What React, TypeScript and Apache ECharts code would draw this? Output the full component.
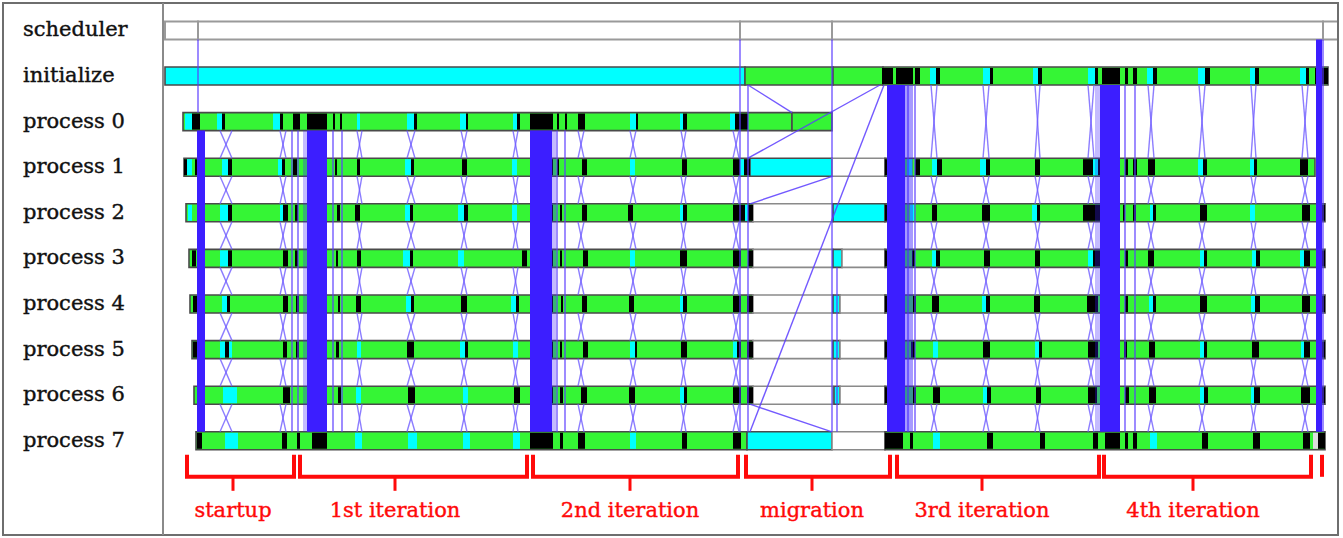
import React, { useEffect, useRef } from "react";
import * as echarts from "echarts";

// ---------- DATA (time unit: trace ticks, 0 = left edge of the timeline) ----------
const rowNames = [
  "scheduler", "initialize", "process 0", "process 1", "process 2",
  "process 3", "process 4", "process 5", "process 6", "process 7",
];

// state codes: C = compute (green), M = communicate (cyan), W = wait (black), I = idle / empty
const stateColors: Record<string, string> = { C: "#35f535", M: "#00ffff", W: "#000000", I: "#ffffff" };
const stateCodes = ["C", "M", "W", "I"];

// base activity spans per row: [state, start, end]
const schedulerSpans: [string, number, number][] = [["I", 2, 35], ["I", 35, 577], ["I", 577, 669], ["I", 669, 1160], ["I", 1160, 1175]];
const initializeSpans: [string, number, number][] = [["M", 2, 582], ["C", 582, 670], ["C", 670, 720], ["C", 720, 1165]];
const p0Spans: [string, number, number][] = [["C", 20, 629], ["C", 629, 669]];
const p1Spans: [string, number, number][] = [["C", 21, 587], ["M", 587, 669], ["I", 669, 722], ["C", 722, 1152]];
const p2Spans: [string, number, number][] = [["C", 23, 590], ["I", 590, 670], ["M", 670, 722], ["C", 722, 1162]];
const p3Spans: [string, number, number][] = [["C", 26, 590], ["I", 590, 670], ["M", 670, 679], ["I", 679, 722], ["C", 722, 1162]];
const p4Spans: [string, number, number][] = [["C", 27, 590], ["I", 590, 670], ["M", 670, 677], ["I", 677, 722], ["C", 722, 1162]];
const p5Spans: [string, number, number][] = [["C", 29, 590], ["I", 590, 670], ["M", 670, 677], ["I", 677, 722], ["C", 722, 1162]];
const p6Spans: [string, number, number][] = [["C", 31, 590], ["I", 590, 670], ["M", 671, 677], ["I", 677, 722], ["C", 722, 1162]];
const p7Spans: [string, number, number][] = [["C", 33, 584], ["M", 584, 669], ["I", 669, 722], ["C", 722, 1162]];

// short events inside the spans: [state, start, end]
const initializeEvents: [string, number, number][] = [
  ["W", 719, 730], ["W", 733, 750], ["W", 752, 757], ["M", 767, 773], ["W", 773, 777], ["M", 820, 827], ["W", 827, 830],
  ["M", 870, 875], ["W", 875, 879], ["M", 925, 932], ["W", 932, 935], ["W", 939, 957], ["W", 962, 965], ["W", 970, 974],
  ["M", 984, 990], ["W", 990, 994], ["M", 1035, 1042], ["W", 1042, 1047], ["M", 1087, 1092], ["W", 1092, 1096],
  ["M", 1137, 1143], ["W", 1143, 1146], ["W", 1152, 1165],
];
const p0Events: [string, number, number][] = [
  ["M", 22, 29], ["W", 29, 37], ["M", 54, 59], ["W", 59, 62], ["M", 110, 117], ["W", 117, 120], ["W", 130, 137],
  ["W", 144, 164], ["W", 170, 172], ["W", 177, 179], ["M", 194, 197], ["M", 244, 251], ["W", 251, 254], ["M", 297, 303],
  ["W", 303, 305], ["M", 350, 354], ["W", 354, 357], ["W", 367, 390], ["W", 394, 396], ["W", 402, 404], ["W", 415, 422],
  ["M", 467, 473], ["W", 473, 475], ["M", 517, 520], ["W", 520, 524], ["M", 567, 572], ["W", 572, 585],
];
const p1Events: [string, number, number][] = [
  ["W", 21, 24], ["M", 24, 29], ["W", 32, 37], ["M", 59, 65], ["W", 65, 69], ["M", 115, 119], ["W", 119, 122], ["W", 130, 134],
  ["W", 147, 162], ["W", 172, 174], ["W", 194, 197], ["M", 242, 248], ["W", 248, 251], ["W", 299, 304], ["M", 349, 354],
  ["W", 367, 390], ["W", 394, 396], ["W", 419, 424], ["M", 467, 472], ["W", 519, 524], ["W", 570, 577], ["M", 577, 581], ["W", 581, 587],
  ["W", 722, 730], ["M", 744, 749], ["W", 752, 757], ["M", 769, 774], ["W", 774, 779], ["M", 817, 823], ["W", 823, 827],
  ["W", 872, 877], ["W", 920, 930], ["M", 930, 935], ["W", 935, 939], ["W", 947, 949], ["W", 962, 965], ["W", 970, 974],
  ["W", 985, 992], ["M", 1035, 1040], ["W", 1040, 1044], ["M", 1087, 1091], ["W", 1091, 1094], ["W", 1137, 1145],
];
const p2Events: [string, number, number][] = [
  ["M", 25, 29], ["M", 57, 65], ["W", 65, 69], ["M", 117, 120], ["W", 120, 125], ["W", 132, 135], ["W", 147, 162],
  ["W", 174, 177], ["W", 192, 197], ["M", 242, 247], ["W", 247, 250], ["M", 295, 301], ["W", 301, 305], ["M", 349, 354],
  ["W", 367, 390], ["W", 397, 399], ["W", 419, 424], ["W", 465, 470], ["M", 517, 520], ["W", 520, 524], ["W", 570, 582],
  ["M", 582, 585], ["W", 585, 590],
  ["W", 722, 742], ["M", 747, 751], ["W", 769, 774], ["W", 819, 827], ["M", 869, 874], ["W", 874, 877], ["W", 920, 937],
  ["W", 960, 962], ["W", 970, 973], ["M", 987, 990], ["W", 990, 993], ["W", 1037, 1044], ["M", 1087, 1092], ["W", 1139, 1147],
  ["W", 1154, 1162],
];
const p3Events: [string, number, number][] = [
  ["W", 29, 33], ["M", 57, 65], ["W", 65, 69], ["W", 120, 125], ["W", 132, 135], ["W", 147, 162], ["W", 173, 175],
  ["W", 194, 198], ["M", 240, 247], ["W", 247, 250], ["M", 295, 301], ["W", 359, 364], ["W", 367, 390], ["W", 397, 399],
  ["W", 420, 425], ["M", 467, 472], ["W", 517, 524], ["W", 570, 578], ["W", 585, 590],
  ["W", 722, 742], ["W", 749, 752], ["M", 769, 773], ["W", 773, 777], ["W", 821, 827], ["W", 872, 877], ["M", 925, 930],
  ["W", 930, 937], ["W", 962, 965], ["W", 985, 991], ["M", 1037, 1041], ["W", 1041, 1044], ["M", 1089, 1093], ["W", 1093, 1097],
  ["M", 1137, 1141], ["W", 1141, 1147], ["W", 1155, 1162],
];
const p4Events: [string, number, number][] = [
  ["W", 30, 35], ["M", 59, 64], ["W", 64, 67], ["W", 120, 125], ["W", 133, 136], ["W", 147, 162], ["W", 175, 177],
  ["W", 193, 198], ["M", 243, 248], ["W", 248, 251], ["W", 298, 304], ["M", 348, 353], ["W", 353, 356], ["W", 367, 390],
  ["W", 398, 400], ["W", 419, 424], ["W", 466, 471], ["M", 517, 520], ["W", 520, 524], ["W", 570, 578], ["W", 584, 590],
  ["W", 722, 742], ["W", 750, 753], ["W", 769, 776], ["M", 819, 823], ["W", 823, 827], ["W", 871, 877], ["W", 924, 935],
  ["W", 962, 965], ["M", 986, 990], ["W", 990, 993], ["W", 1037, 1044], ["M", 1088, 1092], ["W", 1092, 1097], ["W", 1139, 1147],
  ["W", 1155, 1162],
];
const p5Events: [string, number, number][] = [
  ["W", 30, 35], ["M", 57, 62], ["W", 62, 66], ["M", 66, 69], ["W", 120, 124], ["W", 133, 136], ["W", 147, 162],
  ["W", 173, 176], ["M", 194, 198], ["W", 244, 251], ["M", 297, 302], ["W", 302, 305], ["M", 350, 355], ["W", 367, 390],
  ["W", 397, 399], ["W", 420, 425], ["M", 467, 472], ["W", 472, 474], ["W", 518, 524], ["M", 570, 574], ["W", 574, 578],
  ["W", 584, 590],
  ["W", 722, 742], ["W", 748, 752], ["M", 770, 775], ["W", 820, 827], ["M", 872, 876], ["W", 876, 879], ["W", 925, 935],
  ["W", 961, 964], ["W", 986, 992], ["M", 1037, 1041], ["W", 1041, 1044], ["W", 1089, 1096], ["M", 1138, 1141], ["W", 1141, 1147],
  ["W", 1155, 1162],
];
const p6Events: [string, number, number][] = [
  ["W", 34, 42], ["M", 60, 74], ["W", 120, 127], ["W", 147, 162], ["W", 175, 178], ["M", 193, 198], ["W", 245, 252],
  ["M", 300, 305], ["W", 351, 357], ["W", 367, 390], ["W", 397, 400], ["W", 418, 424], ["W", 466, 472], ["M", 517, 521],
  ["W", 521, 524], ["W", 570, 578], ["W", 584, 590],
  ["W", 722, 742], ["W", 750, 753], ["W", 770, 777], ["M", 820, 824], ["W", 824, 828], ["W", 873, 878], ["W", 925, 934],
  ["W", 962, 966], ["W", 986, 993], ["M", 1037, 1041], ["W", 1041, 1045], ["M", 1088, 1091], ["W", 1091, 1097], ["W", 1138, 1147],
  ["W", 1155, 1162],
];
const p7Events: [string, number, number][] = [
  ["W", 34, 39], ["M", 62, 75], ["W", 119, 124], ["W", 134, 137], ["W", 149, 164], ["M", 192, 199], ["M", 245, 254],
  ["M", 300, 307], ["M", 350, 357], ["W", 367, 390], ["W", 397, 400], ["W", 415, 422], ["M", 467, 473], ["W", 519, 524],
  ["W", 570, 578],
  ["W", 722, 740], ["W", 747, 750], ["M", 770, 777], ["W", 824, 830], ["W", 877, 882], ["W", 930, 935], ["W", 942, 957],
  ["W", 962, 965], ["W", 970, 974], ["M", 987, 994], ["W", 1039, 1045], ["W", 1090, 1097], ["W", 1140, 1147],
  ["I", 1150, 1155], ["W", 1155, 1162],
];

const rowSpans = [schedulerSpans, initializeSpans, p0Spans, p1Spans, p2Spans, p3Spans, p4Spans, p5Spans, p6Spans, p7Spans];
const rowEvents = [[], initializeEvents, p0Events, p1Events, p2Events, p3Events, p4Events, p5Events, p6Events, p7Events];

// collective bursts of messages: [fromRow, toRow, start, end, density]
const bursts: [number, number, number, number, number][] = [
  [2, 9, 34, 42, 1], [2, 9, 144, 164, 1], [2, 9, 140, 144, 0.3], [2, 9, 367, 389, 1], [2, 9, 389, 393, 0.3],
  [1, 9, 724, 742, 1], [1, 9, 742, 750, 0.45], [1, 9, 937, 957, 1], [1, 9, 932, 937, 0.3], [0, 9, 1153, 1159, 1],
];

// individual messages: [fromRow, sendTime, toRow, receiveTime]
const messages: [number, number, number, number][] = [
  [0, 35, 2, 35], [2, 129, 9, 129], [2, 135, 9, 135], [2, 170, 9, 170], [2, 179, 9, 179],
  [2, 394, 9, 394], [2, 402, 9, 402], [0, 577, 9, 577], [1, 585, 9, 585], [0, 669, 9, 669],
  [5, 674, 9, 674], [1, 745, 9, 745], [1, 752, 9, 752], [1, 962, 9, 962], [1, 972, 9, 972],
  [0, 1160, 9, 1160],
  // migration
  [1, 585, 2, 629], [1, 717, 3, 585], [3, 670, 4, 587], [1, 721, 9, 587], [8, 587, 9, 669],
];

// neighbour exchanges: [time, latency]
const exchangesBefore: [number, number][] = [
  [57, 12], [117, 6], [194, 5], [244, 8], [298, 6], [350, 5], [415, 6], [467, 6], [518, 5], [570, 6],
];
const exchangesAfter: [number, number][] = [
  [768, 6], [820, 6], [872, 5], [925, 6], [985, 6], [1036, 6], [1088, 5], [1139, 6],
];
const ranksBefore = [2, 3, 4, 5, 6, 7, 8, 9];
const ranksAfter = [1, 3, 4, 5, 6, 7, 8, 9];

// phases: name, start, end, label anchor
const phaseNames = ["startup", "1st iteration", "2nd iteration", "migration", "3rd iteration", "4th iteration", ""];
const phaseStarts = [24, 137, 370, 583, 734, 941, 1159];
const phaseEnds = [131, 364, 575, 727, 936, 1148, 1159];
const phaseAnchors = [70, 232, 467, 649, 819, 1030, 1159];

// ---------- CHART ----------
const BAR_H = 18;
const FONT = '21px "DejaVu Serif", serif';

export default function App() {
  const ref = useRef<HTMLDivElement>(null);

  useEffect(() => {
    if (!ref.current) return;
    const chart = echarts.init(ref.current, null, { renderer: "svg" });

    const spanData: number[][] = [];
    rowSpans.forEach((spans, r) => spans.forEach(([s, a, b]) => spanData.push([r, a, b, stateCodes.indexOf(s)])));
    const eventData: number[][] = [];
    rowEvents.forEach((evs, r) => (evs as [string, number, number][]).forEach(([s, a, b]) => eventData.push([r, a, b, stateCodes.indexOf(s)])));

    const msgData: number[][] = messages.map((m) => [...m, 0]);
    const addExchanges = (ex: [number, number][], ranks: number[]) => {
      ex.forEach(([t, d]) => {
        for (let i = 0; i < ranks.length - 1; i++) {
          msgData.push([ranks[i], t, ranks[i + 1], t + d, 1]);
          msgData.push([ranks[i + 1], t, ranks[i], t + d, 1]);
        }
      });
    };
    addExchanges(exchangesBefore, ranksBefore);
    addExchanges(exchangesAfter, ranksAfter);

    const barRect = (api: any, row: number, a: number, b: number, inset: number) => {
      const p1 = api.coord([a, row]);
      const p2 = api.coord([b, row]);
      return { x: p1[0], y: p1[1] - BAR_H / 2 + inset, width: Math.max(p2[0] - p1[0], 0.5), height: BAR_H - 2 * inset };
    };

    const option: any = {
      animation: false,
      backgroundColor: "#ffffff",
      grid: { left: 163, right: 5, top: 7.6, bottom: 6, show: false },
      xAxis: { type: "value", min: 0, max: 1175, show: false },
      yAxis: { type: "value", min: -0.5, max: 11, inverse: true, show: false },
      graphic: [
        { type: "rect", z: 100, shape: { x: 3, y: 3, width: 1335, height: 532 }, style: { fill: "none", stroke: "#6e6e6e", lineWidth: 2 } },
        { type: "line", z: 100, shape: { x1: 163, y1: 3, x2: 163, y2: 535 }, style: { stroke: "#8a8a8a", lineWidth: 2 } },
      ],
      series: [
        {
          type: "custom",
          name: "labels",
          clip: false,
          data: rowNames.map((_, i) => [0, i]),
          renderItem: (params: any, api: any) => {
            const p = api.coord([0, api.value(1)]);
            return {
              type: "text",
              style: {
                text: rowNames[params.dataIndex], x: 23, y: p[1] - 1, align: "left", verticalAlign: "middle",
                font: FONT, fill: "#111", stroke: "#111", lineWidth: 0.4,
              },
            };
          },
        },
        {
          type: "custom",
          name: "spans",
          clip: false,
          z: 2,
          data: spanData,
          renderItem: (_p: any, api: any) => {
            const st = stateCodes[api.value(3)];
            const row = api.value(0);
            return {
              type: "rect",
              shape: barRect(api, row, api.value(1), api.value(2), 0),
              style: {
                fill: stateColors[st],
                stroke: st === "I" ? (row === 0 ? "#9a9a9a" : "#8a8a8a") : "#4a4a4a",
                lineWidth: row === 0 ? 2 : 1.6,
              },
            };
          },
        },
        {
          type: "custom",
          name: "events",
          clip: false,
          z: 3,
          data: eventData,
          renderItem: (_p: any, api: any) => {
            const st = stateCodes[api.value(3)];
            return {
              type: "rect",
              shape: barRect(api, api.value(0), api.value(1), api.value(2), 1),
              style: { fill: st === "I" ? "#dddddd" : stateColors[st] },
            };
          },
        },
        {
          type: "custom",
          name: "messages",
          clip: false,
          z: 4,
          data: msgData,
          renderItem: (_p: any, api: any) => {
            const fr = api.value(0), tr = api.value(2);
            const down = tr > fr;
            const a = api.coord([api.value(1), fr]);
            const b = api.coord([api.value(3), tr]);
            const kind = api.value(4);
            return {
              type: "line",
              shape: { x1: a[0], y1: a[1] + (down ? BAR_H / 2 : -BAR_H / 2), x2: b[0], y2: b[1] + (down ? -BAR_H / 2 : BAR_H / 2) },
              style: { stroke: kind ? "#6f5cff" : "#5a3cff", lineWidth: kind ? 1.4 : 1.4, opacity: kind ? 0.8 : 0.85 },
            };
          },
        },
        {
          type: "custom",
          name: "bursts",
          clip: false,
          z: 5,
          data: bursts,
          renderItem: (_p: any, api: any) => {
            const a = api.coord([api.value(2), api.value(0)]);
            const b = api.coord([api.value(3), api.value(1)]);
            const y1 = a[1] + BAR_H / 2;
            const y2 = b[1] - BAR_H / 2;
            return {
              type: "rect",
              shape: { x: a[0], y: y1, width: b[0] - a[0], height: y2 - y1 },
              style: { fill: "#3c1eff", opacity: api.value(4) },
            };
          },
        },
        {
          type: "custom",
          name: "phases",
          clip: false,
          z: 6,
          data: phaseStarts.map((s, i) => [s, phaseEnds[i], phaseAnchors[i], 9]),
          renderItem: (params: any, api: any) => {
            const i = params.dataIndex;
            const a = api.coord([api.value(0), api.value(3)]);
            const b = api.coord([api.value(1), api.value(3)]);
            const c = api.coord([api.value(2), api.value(3)]);
            const y0 = a[1];
            const top = y0 + 14, mid = y0 + 36, tick = y0 + 50, txt = y0 + 69;
            const red = "#ff0a0a";
            const children: any[] = [];
            if (b[0] - a[0] < 1) {
              children.push({ type: "line", shape: { x1: a[0], y1: top, x2: a[0], y2: mid }, style: { stroke: red, lineWidth: 4 } });
            } else {
              children.push({
                type: "polyline",
                shape: { points: [[a[0], top], [a[0], mid], [b[0], mid], [b[0], top]] },
                style: { stroke: red, lineWidth: 4, fill: "none", lineJoin: "miter" },
              });
              children.push({ type: "line", shape: { x1: c[0], y1: mid, x2: c[0], y2: tick }, style: { stroke: red, lineWidth: 3 } });
              children.push({
                type: "text",
                style: {
                  text: phaseNames[i], x: c[0], y: txt, align: "center", verticalAlign: "middle",
                  font: FONT, fill: red, stroke: red, lineWidth: 0.4,
                },
              });
            }
            return { type: "group", children };
          },
        },
      ],
    };

    chart.setOption(option);
    return () => chart.dispose();
  }, []);

  return (
    <div
      ref={ref}
      style={{ position: "fixed", left: 0, top: 0, width: 1343, height: 538, background: "#ffffff" }}
    />
  );
}
